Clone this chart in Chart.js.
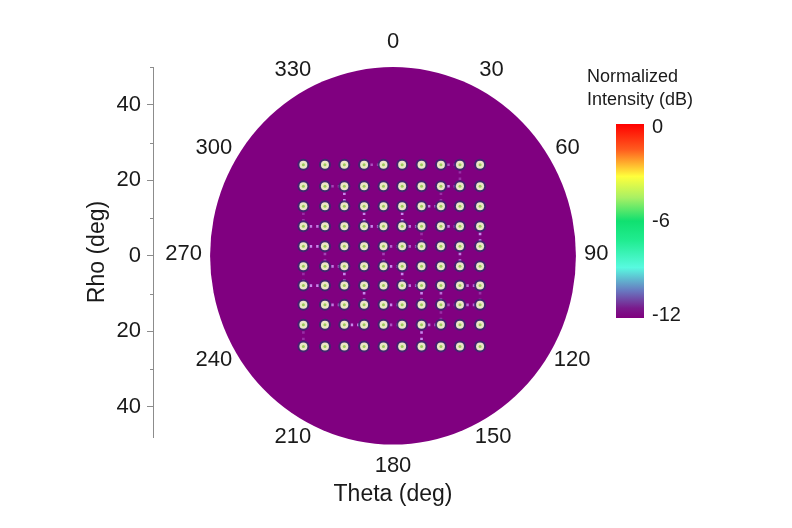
<!DOCTYPE html>
<html><head><meta charset="utf-8">
<script src="https://cdn.jsdelivr.net/npm/chart.js@4.4.1/dist/chart.umd.min.js"></script>
<style>html,body{margin:0;padding:0;background:#fff;}#wrap{width:792px;height:528px;}</style>
</head><body><div id="wrap"><canvas id="c" width="792" height="528"></canvas></div>
<script>
// ---- data ----
const spotX = [-24.5, -18.6, -13.3, -7.9, -2.6, 2.5, 7.8, 13.1, 18.3, 23.8];   // deg, columns
const spotY = [24.1, 18.4, 13.1, 7.8, 2.5, -2.8, -7.9, -13.0, -18.3, -24.0];    // deg, rows
// side-lobe links between neighbouring spots: [row, col, direction, strength]
const links = [
  [0,3,'h',0.6],[0,7,'h',0.6],[0,8,'v',0.35],
  [1,1,'h',0.5],[1,7,'h',1],[1,2,'v',1],[1,7,'v',0.35],
  [2,6,'h',0.9],[2,3,'v',1],[2,5,'v',1],[2,0,'v',0.35],
  [3,0,'h',0.9],[3,3,'h',1],[3,5,'h',0.9],[3,7,'h',0.9],[3,9,'v',1],[3,6,'v',0.35],
  [4,0,'h',1],[4,4,'h',0.7],[4,5,'h',0.7],[4,8,'v',0.9],[4,1,'v',0.5],[4,4,'v',0.5],
  [5,1,'h',0.9],[5,4,'h',1],[5,2,'v',1],[5,5,'v',1],[5,0,'v',0.35],
  [6,0,'h',1],[6,5,'h',0.9],[6,8,'h',0.8],[6,3,'v',1],[6,6,'v',1],[6,7,'v',0.8],[6,9,'v',0.35],
  [7,1,'h',0.9],[7,4,'h',1],[7,7,'h',0.5],[7,8,'h',0.8],[7,7,'v',0.35],
  [8,2,'h',1],[8,4,'h',0.6],[8,6,'h',0.8],[8,6,'v',1],[8,0,'v',0.35]
];
const thetaLabels = [0, 30, 60, 90, 120, 150, 180, 210, 240, 270, 300, 330];
const rhoMax = 50;
const rhoMin = -48;
const rhoMajor = [-40, -20, 0, 20, 40];
const rhoMinor = [-30, -10, 10, 30, 50];
const cbarTicks = [0, -6, -12];
const cbarMin = -12, cbarMax = 0;
const cbarTitle = ['Normalized', 'Intensity (dB)'];

// ---- build datasets ----
const FONT = "'Liberation Sans', Arial, sans-serif";
const spotPts = [];
spotY.forEach(yv => spotX.forEach(xv => spotPts.push({x: xv, y: yv})));

const linkSets = links.map(([r, c, d, s]) => {
  const p2 = d === 'h' ? {x: spotX[c+1], y: spotY[r]} : {x: spotX[c], y: spotY[r+1]};
  return {
    type: 'line', data: [{x: spotX[c], y: spotY[r]}, p2], order: 4,
    borderColor: `rgba(212,160,255,${0.85 * s})`, borderWidth: 2.6, borderDash: [2.4, 4],
    borderCapStyle: 'butt',
    pointRadius: 0, fill: false, tension: 0
  };
});

const polarPlugin = {
  id: 'polar',
  beforeDatasetsDraw(chart) {
    const {ctx, scales: {x, y}} = chart;
    const cx = x.getPixelForValue(0), cy = y.getPixelForValue(0);
    const rx = x.getPixelForValue(rhoMax) - cx, ry = cy - y.getPixelForValue(rhoMax);
    ctx.save();
    ctx.beginPath(); ctx.ellipse(cx, cy, rx, ry, 0, 0, Math.PI * 2);
    ctx.fillStyle = '#800080'; ctx.fill();
    ctx.restore();
  },
  afterDraw(chart) {
    const {ctx, scales: {x, y}} = chart;
    const cx = x.getPixelForValue(0), cy = y.getPixelForValue(0);
    const rx = x.getPixelForValue(rhoMax) - cx, ry = cy - y.getPixelForValue(rhoMax);
    ctx.save();
    // angle labels
    ctx.font = `22px ${FONT}`; ctx.fillStyle = '#1a1a1a';
    ctx.textAlign = 'center'; ctx.textBaseline = 'middle';
    thetaLabels.forEach(t => {
      const a = t * Math.PI / 180, s = Math.sin(a), c = Math.cos(a);
      const hw = ctx.measureText(String(t)).width / 2;
      const px = cx + (rx + 8) * s + hw * s * Math.abs(s);
      const py = cy - (ry + 23) * c - 2;
      ctx.fillText(String(t), px, py);
    });
    // minor ticks on rho axis
    ctx.strokeStyle = '#8c8c8c'; ctx.lineWidth = 1;
    const ax = y.right;
    rhoMinor.forEach(v => {
      const py = Math.round(y.getPixelForValue(v)) + 0.5;
      ctx.beginPath(); ctx.moveTo(ax - 3, py); ctx.lineTo(ax, py); ctx.stroke();
    });
    // colour bar
    const bx = 616, by = 124, bw = 28, bh = 194;
    const g = ctx.createLinearGradient(0, by, 0, by + bh);
    [[0,'#ff0000'],[0.13,'#ff5a1e'],[0.27,'#ffff3c'],[0.38,'#a8f064'],[0.5,'#10e070'],[0.6,'#20ec90'],[0.74,'#58fae0'],[0.86,'#6878c0'],[0.95,'#7a1a8c'],[1,'#80007e']]
      .forEach(([o, col]) => g.addColorStop(o, col));
    ctx.fillStyle = g; ctx.fillRect(bx, by, bw, bh);
    ctx.fillStyle = '#1a1a1a'; ctx.textAlign = 'left';
    ctx.font = `20px ${FONT}`;
    cbarTicks.forEach(v => {
      const py = 127 + (cbarMax - v) / (cbarMax - cbarMin) * (315 - 127);
      ctx.fillText(String(v), 652, py);
    });
    ctx.font = `18px ${FONT}`;
    ctx.fillText(cbarTitle[0], 587, 77);
    ctx.fillText(cbarTitle[1], 587, 100);
    ctx.restore();
  }
};

new Chart(document.getElementById('c'), {
  type: 'scatter',
  data: {
    datasets: [
      {data: spotPts, order: 1, pointRadius: 1.5, pointBackgroundColor: '#9ccc5c', pointBorderWidth: 0},
      {data: spotPts, order: 2, pointRadius: 4, pointBackgroundColor: '#ece6c6', pointBorderWidth: 0},
      {data: spotPts, order: 3, pointRadius: 6, pointBackgroundColor: 'rgba(52,44,108,0.8)', pointBorderWidth: 0},
      ...linkSets
    ]
  },
  options: {
    responsive: false, animation: false, devicePixelRatio: 1,
    layout: {padding: {left: 0, right: 159, top: 67, bottom: 0}},
    plugins: {legend: {display: false}, tooltip: {enabled: false}},
    scales: {
      x: {
        type: 'linear', min: -65.6, max: 65.6,
        grid: {display: false}, border: {display: false}, ticks: {display: false},
        title: {display: true, text: 'Theta (deg)', color: '#1a1a1a', font: {family: FONT, size: 23}, padding: {top: 0, bottom: 20}},
        afterFit(s) { s.height = 91; }
      },
      y: {
        type: 'linear', min: rhoMin, max: rhoMax,
        afterBuildTicks(s) { s.ticks = rhoMajor.map(v => ({value: v})); },
        ticks: {callback: v => String(Math.abs(v)), color: '#1a1a1a', font: {family: FONT, size: 22}, padding: 6},
        grid: {drawOnChartArea: false, drawTicks: true, tickLength: 6, tickColor: '#8c8c8c'},
        border: {display: true, color: '#8c8c8c', width: 1},
        title: {display: true, text: 'Rho (deg)', color: '#1a1a1a', font: {family: FONT, size: 23}, padding: {top: 84, bottom: 0}},
        afterFit(s) { s.width = 153; }
      }
    }
  },
  plugins: [polarPlugin]
});
</script>
</body></html>
